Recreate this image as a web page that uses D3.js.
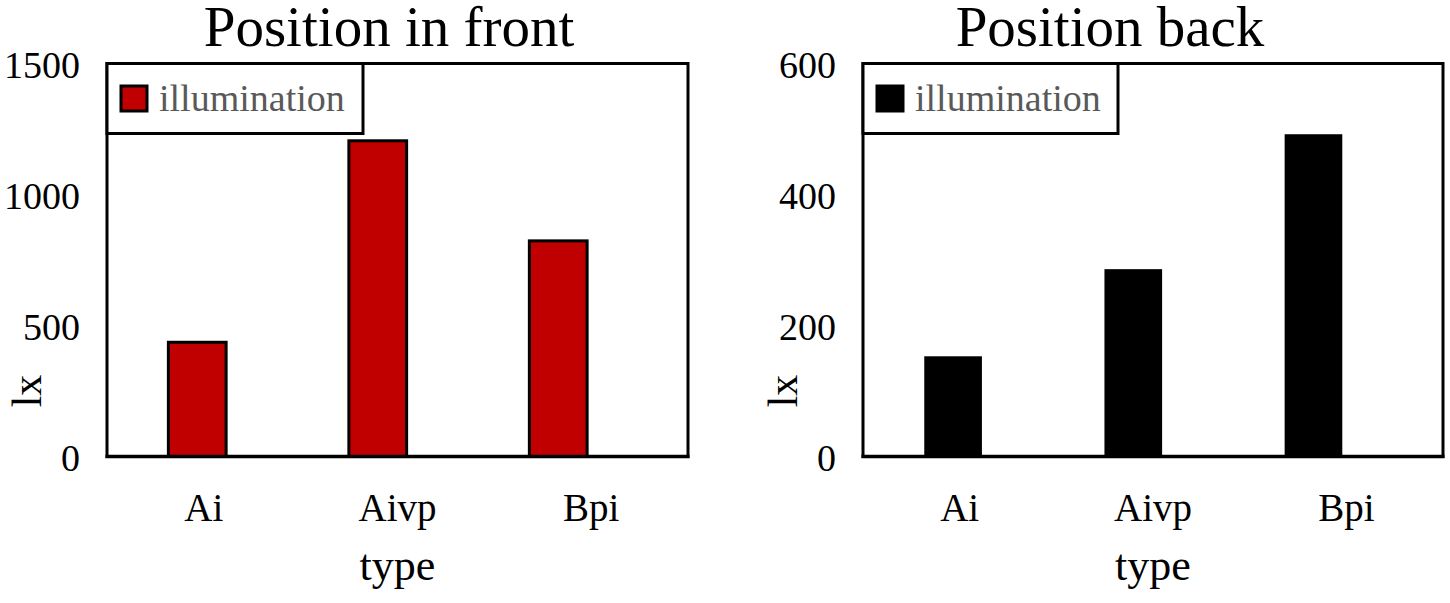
<!DOCTYPE html>
<html>
<head>
<meta charset="utf-8">
<script src="https://cdn.jsdelivr.net/npm/d3@7"></script>
<style>
  html, body { margin: 0; padding: 0; background: #fff; }
  svg { display: block; font-family: "Liberation Serif", "DejaVu Serif", serif; }
  svg text { font-family: "Liberation Serif", "DejaVu Serif", serif; }
</style>
</head>
<body>
<svg id="chart" width="1450" height="603"></svg>
<script>
// ---- data ----
const categories = ["Ai", "Aivp", "Bpi"];
const frontValues = [436, 1205, 823];
const backValues = [153, 286, 492];
const frontTicks = [0, 500, 1000, 1500];
const backTicks = [0, 200, 400, 600];
const legendLabel = "illumination";
const xTitle = "type";
const yTitle = "lx";

const svg = d3.select("#chart");

function panel(opts) {
  const g = svg.append("g");
  const top = 63.5, bottom = 456.5;
  const y = d3.scaleLinear().domain(opts.domain).range([bottom, top]);
  const xLab = d3.scaleBand().domain(categories).range([opts.x0, opts.x1]);
  const xBar = d3.scaleBand().domain(categories)
    .range([opts.x0, opts.x0 + (opts.x1 - opts.x0) * 0.932])
    .paddingInner(0.68).paddingOuter(0.34);

  // frame
  g.append("rect")
    .attr("x", opts.x0).attr("y", top)
    .attr("width", opts.x1 - opts.x0).attr("height", bottom - top)
    .attr("fill", "none").attr("stroke", "#000").attr("stroke-width", 3);

  // bars
  g.selectAll("rect.bar").data(opts.values).join("rect")
    .attr("class", "bar")
    .attr("x", (d, i) => xBar(categories[i]))
    .attr("width", xBar.bandwidth())
    .attr("y", d => y(d))
    .attr("height", d => y(0) - y(d))
    .attr("fill", opts.color)
    .attr("stroke", "#000").attr("stroke-width", opts.barStroke);

  // y axis
  const ya = d3.axisLeft(y).tickValues(opts.ticks).tickFormat(d3.format("d"))
    .tickSize(0).tickPadding(27);
  const yg = g.append("g").attr("transform", `translate(${opts.x0},0)`).call(ya);
  yg.attr("font-family", null);
  yg.select(".domain").remove();
  yg.selectAll("text").attr("font-size", 38).attr("fill", "#000").attr("dy", "0.36em");

  // x axis
  const xa = d3.axisBottom(xLab).tickSize(0).tickPadding(0);
  const xg = g.append("g").attr("transform", `translate(0,${bottom})`).call(xa);
  xg.attr("font-family", null);
  xg.select(".domain").remove();
  xg.selectAll("text").attr("font-size", 39).attr("fill", "#000")
    .attr("dy", 0).attr("y", 64);

  // bottom axis line (thicker)
  g.append("line").attr("x1", opts.x0 - 1.5).attr("x2", opts.x1 + 1.5)
    .attr("y1", bottom).attr("y2", bottom).attr("stroke", "#000").attr("stroke-width", 3.5);

  // axis titles
  g.append("text").text(xTitle)
    .attr("x", (opts.x0 + opts.x1) / 2).attr("y", 580)
    .attr("text-anchor", "middle").attr("font-size", 44);
  g.append("text").text(yTitle)
    .attr("transform", `translate(${opts.x0 - 66},391) rotate(-90)`)
    .attr("text-anchor", "middle").attr("font-size", 42);

  // title
  g.append("text").text(opts.title)
    .attr("x", opts.titleX).attr("y", 46)
    .attr("text-anchor", "middle").attr("font-size", 57);

  // legend
  g.append("rect").attr("x", opts.x0).attr("y", top)
    .attr("width", opts.legendW).attr("height", 70)
    .attr("fill", "#fff").attr("stroke", "#000").attr("stroke-width", 3);
  g.append("rect").attr("x", opts.x0 + 14).attr("y", 86)
    .attr("width", 26).attr("height", 25)
    .attr("fill", opts.color).attr("stroke", "#000").attr("stroke-width", 3);
  g.append("text").text(legendLabel)
    .attr("x", opts.x0 + 52).attr("y", 111)
    .attr("font-size", 38).attr("fill", "#595959");
}

panel({ x0: 107, x1: 688, domain: [0, 1500], ticks: frontTicks, values: frontValues,
        color: "#c00000", barStroke: 3, title: "Position in front", titleX: 389, legendW: 256 });
panel({ x0: 863, x1: 1443, domain: [0, 600], ticks: backTicks, values: backValues,
        color: "#000000", barStroke: 0, title: "Position back", titleX: 1110, legendW: 255 });
</script>
</body>
</html>
